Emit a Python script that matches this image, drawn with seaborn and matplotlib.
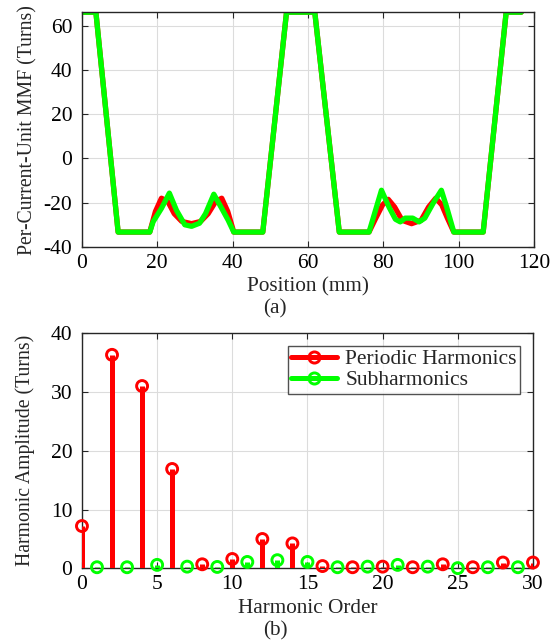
import numpy as np
import pandas as pd
import seaborn as sns
import matplotlib.pyplot as plt
from matplotlib.lines import Line2D
from matplotlib.legend_handler import HandlerLine2D

# ---- data: (a) per-current-unit MMF ----
pos_total = [0, 3.7, 9.6, 18.0, 18.9, 21.1, 23.2, 25.1, 27.3, 29.1, 31.2, 32.8, 35.0, 37.1, 38.8, 40.3,
             48.0, 54.3, 61.8, 68.3, 76.2, 77.3, 79.5, 81.5, 83.2, 84.5, 85.8, 87.8, 89.5, 91.0,
             93.3, 95.4, 96.8, 98.7, 106.5, 112.6, 116.6]
mmf_total = [66, 66, -33.3, -33.3, -28.6, -22.6, -15.7, -23.5, -30.0, -30.7, -29.3, -25.0, -16.2, -22.6, -27.9, -33.3,
             -33.3, 66, 66, -33.3, -33.3, -27.0, -14.4, -22.0, -27.5, -28.7, -27.0, -27.0, -28.7, -27.0,
             -20.0, -14.4, -22.0, -33.3, -33.3, 66, 66]

pos_periodic = [0, 3.7, 9.6, 18.0, 19.5, 21.1, 22.8, 24.5, 26.5, 29.1, 31.5, 33.5, 35.5, 37.1, 38.7, 40.3,
                48.0, 54.3, 61.8, 68.3, 76.2, 78.0, 79.8, 81.3, 83.0, 85.0, 87.5, 90.0, 92.0, 93.9,
                95.5, 97.0, 98.7, 106.5, 112.6, 116.6]
mmf_periodic = [66, 66, -33.3, -33.3, -24.0, -18.0, -19.5, -25.0, -28.5, -29.5, -28.5, -25.0, -19.5, -18.0, -24.0, -33.3,
                -33.3, 66, 66, -33.3, -33.3, -27.0, -21.0, -18.5, -22.0, -28.0, -29.5, -28.0, -22.0, -18.0,
                -21.0, -27.0, -33.3, -33.3, 66, 66]

# ---- data: (b) harmonic spectrum ----
order_periodic = [0, 2, 4, 6, 8, 10, 12, 14, 16, 18, 20, 22, 24, 26, 28, 30]
amp_periodic = [7.2, 36.3, 31.0, 16.9, 0.7, 1.6, 5.0, 4.25, 0.4, 0.2, 0.3, 0.2, 0.7, 0.2, 1.0, 1.0]
order_sub = [1, 3, 5, 7, 9, 11, 13, 15, 17, 19, 21, 23, 25, 27, 29]
amp_sub = [0.2, 0.2, 0.6, 0.3, 0.25, 1.1, 1.4, 1.1, 0.2, 0.3, 0.6, 0.3, 0.05, 0.2, 0.2]

RED = '#ff0000'
GREEN = '#00ff00'

sns.set_theme(style='whitegrid')
plt.rcParams['font.family'] = ['Liberation Serif', 'DejaVu Serif']
plt.rcParams['axes.unicode_minus'] = False
TICK_FS = 15.5
XLAB_FS = 15.3
YLAB_FS = 14.2

fig = plt.figure(figsize=(5.5, 6.43), dpi=100)
ax1 = fig.add_axes([0.149, 0.616, 0.822, 0.365])
ax2 = fig.add_axes([0.149, 0.116, 0.820, 0.366])


def style_axes(ax):
    ax.set_facecolor('white')
    ax.grid(True, color='#dcdcdc', linewidth=0.8)
    for s in ax.spines.values():
        s.set_visible(True)
        s.set_color('#262626')
        s.set_linewidth(1.0)
    ax.tick_params(direction='in', length=4, width=0.8, colors='#262626',
                   labelsize=TICK_FS, labelcolor='black', top=True, right=True,
                   bottom=True, left=True)
    ax.tick_params(axis='x', pad=5)
    ax.tick_params(axis='y', pad=7)


# ---- (a) ----
df_p = pd.DataFrame({'pos': pos_periodic, 'mmf': mmf_periodic})
df_t = pd.DataFrame({'pos': pos_total, 'mmf': mmf_total})
sns.lineplot(data=df_p, x='pos', y='mmf', ax=ax1, color=RED, lw=3.8,
             sort=False, estimator=None, solid_joinstyle='round', solid_capstyle='round')
sns.lineplot(data=df_t, x='pos', y='mmf', ax=ax1, color=GREEN, lw=3.8,
             sort=False, estimator=None, solid_joinstyle='round', solid_capstyle='round')
ax1.set_xlim(0, 120)
ax1.set_ylim(-40, 66)
ax1.set_xticks(np.arange(0, 121, 20))
ax1.set_yticks(np.arange(-40, 61, 20))
style_axes(ax1)
ax1.set_xlabel('Position (mm)', fontsize=XLAB_FS, labelpad=3)
ax1.set_ylabel('Per-Current-Unit MMF (Turns)', fontsize=YLAB_FS, labelpad=4)
fig.text(0.5, 1 - 309 / 643, '(a)', ha='center', va='center', fontsize=XLAB_FS)

# ---- (b) ----
ax2.vlines(order_periodic, 0, amp_periodic, color=RED, lw=3.6, zorder=3)
ax2.vlines(order_sub, 0, amp_sub, color=GREEN, lw=3.6, zorder=3)
sns.scatterplot(x=order_periodic, y=amp_periodic, ax=ax2, marker='o', s=62,
                facecolor='none', edgecolor=RED, linewidth=2.1, zorder=4, clip_on=False)
sns.scatterplot(x=order_sub, y=amp_sub, ax=ax2, marker='o', s=62,
                facecolor='none', edgecolor=GREEN, linewidth=2.1, zorder=4, clip_on=False)
ax2.set_xlim(0, 30)
ax2.set_ylim(0, 40)
ax2.set_xticks(np.arange(0, 31, 5))
ax2.set_yticks(np.arange(0, 41, 10))
style_axes(ax2)
ax2.set_xlabel('Harmonic Order', fontsize=XLAB_FS, labelpad=3)
ax2.set_ylabel('Harmonic Amplitude (Turns)', fontsize=YLAB_FS, labelpad=11)
fig.text(0.5, 1 - 631 / 643, '(b)', ha='center', va='center', fontsize=XLAB_FS)


class StemHandler(HandlerLine2D):
    def get_xdata(self, legend, xdescent, ydescent, width, height, fontsize):
        xdata = np.array([-xdescent, -xdescent + width])
        return xdata, np.array([-xdescent + width - 3])


h1 = Line2D([], [], color=RED, lw=3.6, marker='o', ms=8, mfc='none', mec=RED, mew=2.1)
h2 = Line2D([], [], color=GREEN, lw=3.6, marker='o', ms=8, mfc='none', mec=GREEN, mew=2.1)
leg = ax2.legend([h1, h2], ['Periodic Harmonics', 'Subharmonics'], loc='upper right',
                 fontsize=TICK_FS, frameon=True, fancybox=False, borderpad=0.15,
                 handlelength=2.1, handletextpad=0.4, labelspacing=0.05,
                 borderaxespad=0.6, numpoints=1,
                 handler_map={Line2D: StemHandler(numpoints=1)})
leg.get_frame().set_edgecolor('#262626')
leg.get_frame().set_linewidth(1.0)

fig.savefig('out.png', dpi=100)
